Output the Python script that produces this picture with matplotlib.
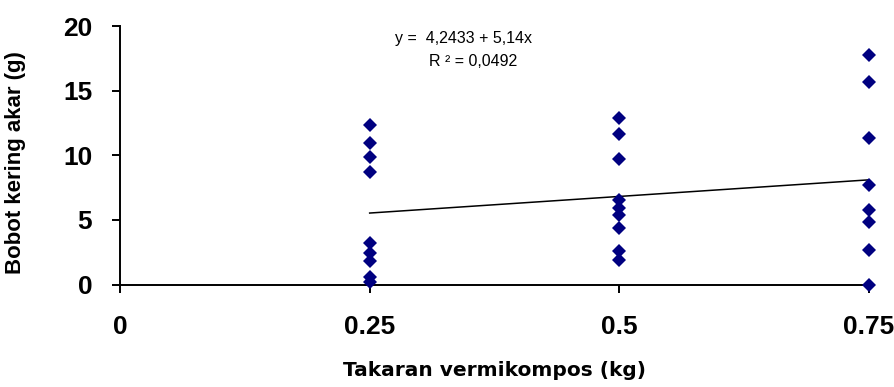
import matplotlib

matplotlib.use("Agg")

import matplotlib.pyplot as plt
import numpy as np

# Bobot kering akar per takaran vermikompos
dose_025 = [12.34, 10.92, 9.84, 8.72, 3.23, 2.46, 1.84, 0.6, 0.22]
dose_050 = [12.88, 11.64, 9.7, 6.54, 5.9, 5.37, 4.34, 2.6, 1.89]
dose_075 = [17.75, 15.68, 11.31, 7.7, 5.76, 4.86, 2.67, 0.0]
doses = [0.25, 0.5, 0.75]

# persamaan regresi
intercept = 4.2433
slope = 5.14
r2 = 0.0492

x_ticks = [0, 0.25, 0.5, 0.75]
x_ticklabels = ["0", "0.25", "0.5", "0.75"]
y_ticks = [0, 5, 10, 15, 20]

plt.rcParams["font.family"] = ["Liberation Sans", "DejaVu Sans"]

fig = plt.figure(figsize=(8.95, 3.87), dpi=100)
ax = fig.add_axes([120 / 895, 1 - 284.5 / 387, (869 - 120) / 895, (284.5 - 26) / 387])

xs = np.concatenate([np.full(len(v), d) for d, v in zip(doses, [dose_025, dose_050, dose_075])])
ys = np.concatenate([dose_025, dose_050, dose_075])

xl = np.array([doses[0], doses[-1]])
ax.plot(xl, intercept + slope * xl, color="black", linewidth=1.1, zorder=2)
ax.plot(xs, ys, linestyle="none", marker="D", markersize=7.3,
        color="#000080", markeredgewidth=0, clip_on=False, zorder=3)

ax.set_xlim(0, 0.75)
ax.set_ylim(0, 20)
ax.set_xticks(x_ticks)
ax.set_xticklabels(x_ticklabels)
ax.set_yticks(y_ticks)

for side in ["top", "right"]:
    ax.spines[side].set_visible(False)
for side in ["left", "bottom"]:
    ax.spines[side].set_linewidth(1.4)
    ax.spines[side].set_zorder(1)

ax.tick_params(axis="both", direction="out", length=6, width=1.4,
               labelsize=19)
ax.tick_params(axis="x", pad=16)
ax.tick_params(axis="y", pad=14)
for lbl in ax.get_xticklabels() + ax.get_yticklabels():
    lbl.set_fontweight("bold")

ax.set_ylabel("Bobot kering akar (g)", fontsize=16, fontweight="bold")
ax.yaxis.set_label_coords(-(120 - 26) / (869 - 120), 0.47)

fig.text(494.5 / 895, 1 - 371 / 387, "Takaran vermikompos (kg)",
         fontsize=14.5, fontweight="bold", ha="center", va="center",
         family=["DejaVu Sans"])

ax.text(395 / 895, 1 - 38 / 387, f"y =  {intercept:.4f} + {slope:.2f}x".replace(".", ","),
        transform=fig.transFigure, fontsize=11.5, ha="left", va="center")
ax.text(429 / 895, 1 - 62 / 387, f"R ² = {r2:.4f}".replace(".", ","),
        transform=fig.transFigure, fontsize=11.5, ha="left", va="center")

fig.savefig("out.png", dpi=100)
